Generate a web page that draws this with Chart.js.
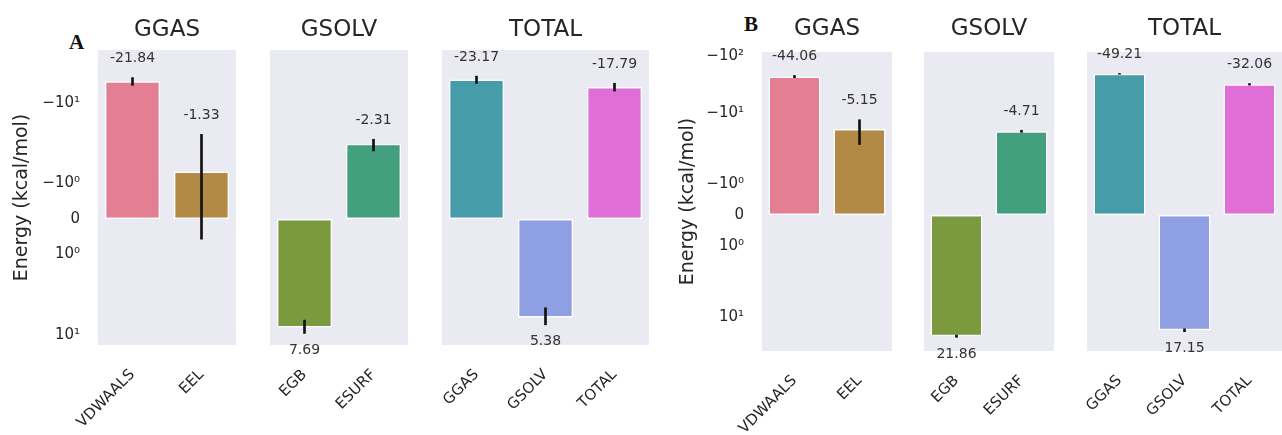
<!DOCTYPE html>
<html>
<head>
<meta charset="utf-8">
<script src="https://cdn.jsdelivr.net/npm/chart.js@4"></script>
<style>
  html, body { margin: 0; padding: 0; background: #fff; }
  body { width: 1282px; height: 435px; overflow: hidden; position: relative; }
  canvas { position: absolute; left: 0; top: 0; }
  .tag { position: absolute; font-family: "Liberation Serif", "DejaVu Serif", serif; font-weight: bold; font-size: 21px; color: #111; }
</style>
</head>
<body>
<div class="tag" style="left:69px;top:30px">A</div>
<div class="tag" style="left:744px;top:12px">B</div>
<script>
// energy terms, one group per subplot
const groupTitles = ['GGAS', 'GSOLV', 'TOTAL'];
const groupTerms = [['VDWAALS', 'EEL'], ['EGB', 'ESURF'], ['GGAS', 'GSOLV', 'TOTAL']];

// panel A
const valuesA = [[-21.84, -1.33], [7.69, -2.31], [-23.17, 5.38, -17.79]];
const errorsA = [[3.0, 1.9], [1.8, 0.4], [3.0, 1.6, 2.5]];
const tickValuesA = [-10, -1, 0, 1, 10];
const tickLabelsA = ['\u221210\u00b9', '\u221210\u2070', '0', '10\u2070', '10\u00b9'];

// panel B
const valuesB = [[-44.06, -5.15], [21.86, -4.71], [-49.21, 17.15, -32.06]];
const errorsB = [[2.0, 2.4], [1.0, 0.2], [0.8, 1.0, 1.0]];
const tickValuesB = [-100, -10, -1, 0, 1, 10];
const tickLabelsB = ['\u221210\u00b2', '\u221210\u00b9', '\u221210\u2070', '0', '10\u2070', '10\u00b9'];

const barColors = [['#e47e92', '#b28a45'], ['#7b9a3f', '#42a07f'], ['#469ca9', '#8f9fe3', '#df6fd6']];

const W = 1322, H = 435;
Chart.defaults.font.family = 'DejaVu Sans';
Chart.defaults.color = '#262626';

// matplotlib style symlog (base 10, linthresh 2, linscale 1)
const LINTHRESH = 2, LINSCALE = 1 / (1 - 1 / 10);
function symT(v) {
  const a = Math.abs(v);
  if (a <= LINTHRESH) return v * LINSCALE;
  return Math.sign(v) * LINTHRESH * (LINSCALE + Math.log10(a / LINTHRESH));
}
function symInv(t) {
  const a = Math.abs(t);
  if (a <= LINTHRESH * LINSCALE) return t / LINSCALE;
  return Math.sign(t) * LINTHRESH * Math.pow(10, a / LINTHRESH - LINSCALE);
}

class SymlogScale extends Chart.LinearScale {
  configure() {
    super.configure();
    this._tStart = symT(this.min);
    this._tRange = symT(this.max) - this._tStart;
  }
  getPixelForValue(value) {
    return value === null ? NaN : this.getPixelForDecimal((symT(value) - this._tStart) / this._tRange);
  }
  getValueForPixel(pixel) {
    return symInv(this._tStart + this.getDecimalForPixel(pixel) * this._tRange);
  }
}
SymlogScale.id = 'symlog';
SymlogScale.defaults = {};
Chart.register(SymlogScale);

const panelBg = {
  id: 'panelBg',
  beforeDraw(chart) {
    const a = chart.chartArea, ctx = chart.ctx;
    ctx.save();
    ctx.fillStyle = '#eaeaf2';
    ctx.fillRect(a.left, a.top, a.right - a.left, a.bottom - a.top);
    ctx.restore();
  }
};

const valueLabels = {
  id: 'valueLabels',
  afterDatasetsDraw(chart) {
    const ctx = chart.ctx;
    const vals = chart.data.datasets[1].data;
    const meta = chart.getDatasetMeta(0);
    ctx.save();
    ctx.font = '14px "DejaVu Sans"';
    ctx.fillStyle = '#333';
    ctx.textAlign = 'center';
    ctx.textBaseline = 'middle';
    meta.data.forEach((el, i) => {
      const top = Math.min(el.y, el.base), bottom = Math.max(el.y, el.base);
      const y = vals[i] < 0 ? top - 19 : bottom + 17;
      ctx.fillText(vals[i].toFixed(2), el.x, y);
    });
    ctx.restore();
  }
};

const groupTitle = {
  id: 'groupTitle',
  afterDraw(chart, args, opts) {
    const a = chart.chartArea, ctx = chart.ctx;
    ctx.save();
    ctx.font = '23px "DejaVu Sans"';
    ctx.fillStyle = '#262626';
    ctx.textAlign = 'center';
    ctx.textBaseline = 'middle';
    ctx.fillText(opts.text, (a.left + a.right) / 2, opts.y);
    ctx.restore();
  }
};

function drawPanel(panel) {
  groupTitles.forEach((title, g) => {
    const first = g === 0;
    const left = panel.lefts[g], right = panel.rights[g];
    const vals = panel.values[g], errs = panel.errors[g];
    const canvas = document.createElement('canvas');
    canvas.width = W;
    canvas.height = H;
    document.body.appendChild(canvas);

    new Chart(canvas, {
      type: 'bar',
      data: {
        labels: groupTerms[g],
        datasets: [
          {
            data: vals.map((v, i) => [v - errs[i], v + errs[i]]),
            backgroundColor: '#111',
            borderWidth: 0,
            barThickness: 2,
            grouped: false,
            order: 0
          },
          {
            data: vals,
            backgroundColor: barColors[g],
            borderColor: '#ffffff',
            borderWidth: 1.5,
            borderSkipped: false,
            categoryPercentage: 1,
            barPercentage: 0.8,
            grouped: false,
            order: 1
          }
        ]
      },
      options: {
        responsive: false,
        animation: false,
        events: [],
        layout: {
          padding: { left: first ? left - panel.yWidth : left, right: W - right, top: panel.top, bottom: 0 }
        },
        plugins: {
          legend: { display: false },
          tooltip: { enabled: false },
          groupTitle: { text: title, y: panel.titleY }
        },
        scales: {
          x: {
            grid: { display: false, drawTicks: false },
            border: { display: false },
            ticks: { autoSkip: false, minRotation: 45, maxRotation: 45, padding: 21, font: { size: 15 }, color: '#262626' },
            afterFit: s => { s.height = H - panel.bottom; }
          },
          y: {
            type: 'symlog',
            display: first,
            reverse: true,
            bounds: 'data',
            min: panel.min,
            max: panel.max,
            grid: { display: false, drawTicks: false },
            border: { display: false },
            ticks: {
              padding: 18,
              font: { size: 15 },
              color: '#262626',
              callback: v => panel.tickLabels[panel.tickValues.indexOf(v)]
            },
            afterBuildTicks: s => { s.ticks = panel.tickValues.map(v => ({ value: v })); },
            title: { display: true, text: 'Energy (kcal/mol)', font: { size: 19 }, color: '#262626', padding: { top: 11, bottom: 0 } },
            afterFit: s => { s.width = first ? panel.yWidth : 0; }
          }
        }
      },
      plugins: [panelBg, valueLabels, groupTitle]
    });
  });
}

drawPanel({
  values: valuesA, errors: errorsA, tickValues: tickValuesA, tickLabels: tickLabelsA,
  min: -67, max: 14.4, top: 50, bottom: 345, titleY: 30, yWidth: 98,
  lefts: [98, 270, 442], rights: [236, 408, 649]
});
drawPanel({
  values: valuesB, errors: errorsB, tickValues: tickValuesB, tickLabels: tickLabelsB,
  min: -120, max: 40, top: 52, bottom: 351, titleY: 29, yWidth: 96,
  lefts: [762, 924, 1087], rights: [892, 1054, 1282]
});
</script>
</body>
</html>
